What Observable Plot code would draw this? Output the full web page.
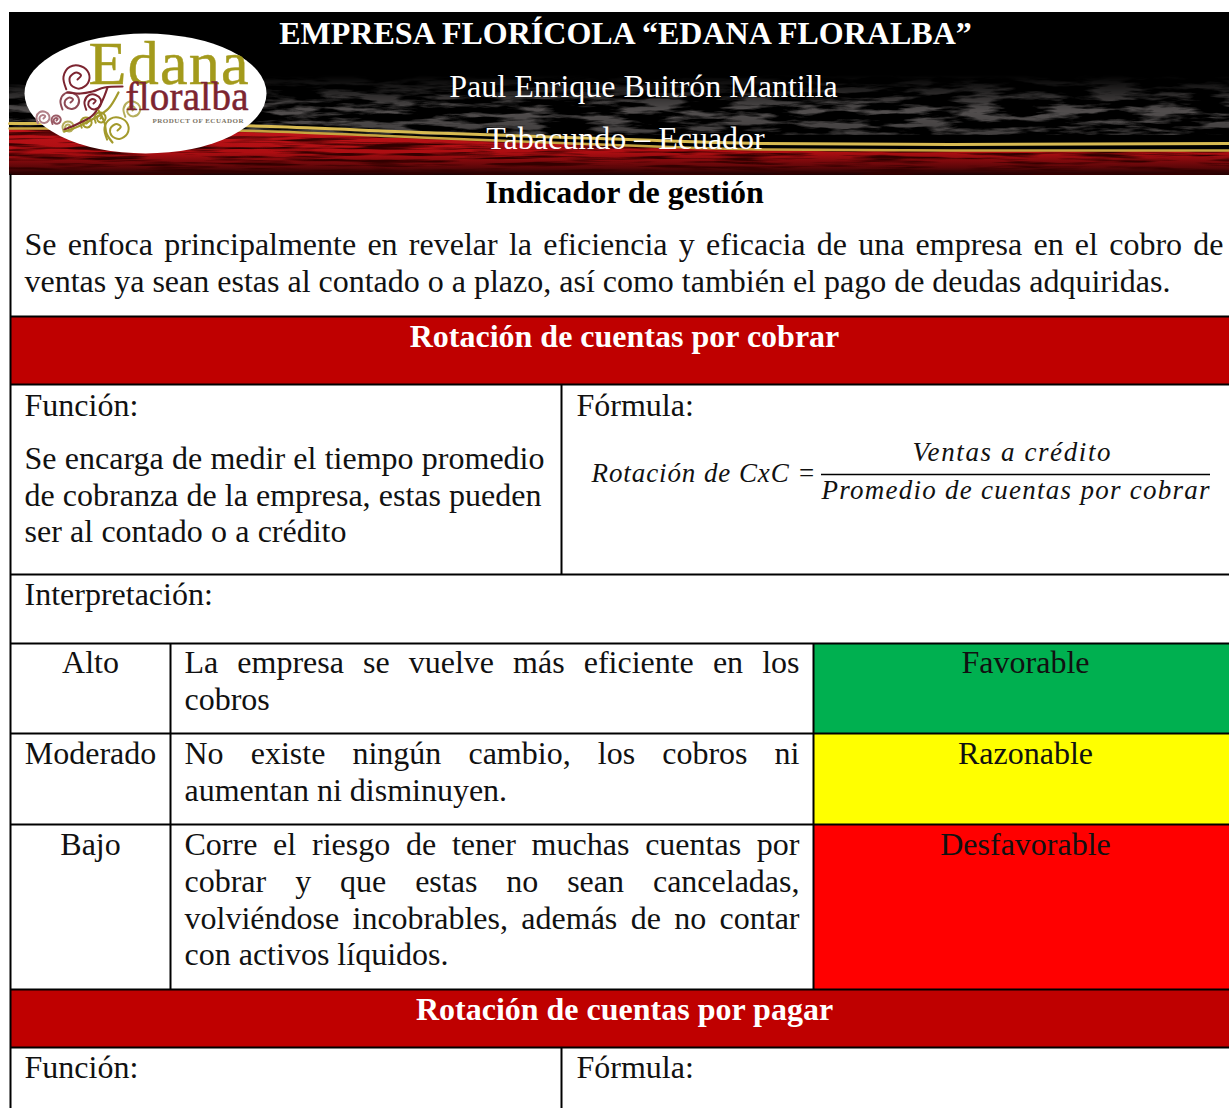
<!DOCTYPE html>
<html lang="es">
<head>
<meta charset="utf-8">
<style>html,body{margin:0;padding:0;background:#fff}svg{display:block}</style>
<script src="https://cdn.jsdelivr.net/npm/d3@7"></script>
<script src="https://cdn.jsdelivr.net/npm/@observablehq/plot@0.6"></script>
</head>
<body>
<div id="page"></div>
<script>
// ---------- content ----------
const headerTitle = ["EMPRESA FLORÍCOLA “EDANA FLORALBA”"];
const headerLines = ["Paul Enrique Buitrón Mantilla", "Tabacundo – Ecuador"];
const sectionTitles = ["Indicador de gestión", "Rotación de cuentas por cobrar", "Rotación de cuentas por pagar"];
const introLines = ["Se enfoca principalmente en revelar la eficiencia y eficacia de una empresa en el cobro de", "ventas ya sean estas al contado o a plazo, así como también el pago de deudas adquiridas."];
const cellLabels = ["Función:", "Fórmula:", "Interpretación:", "Función:", "Fórmula:"];
const functionLines = ["Se encarga de medir el tiempo promedio", "de cobranza de la empresa, estas pueden", "ser al contado o a crédito"];
const levels = ["Alto", "Moderado", "Bajo"];
const verdicts = ["Favorable", "Razonable", "Desfavorable"];
const verdictColors = ["#00b050", "#ffff00", "#ff0000"];
const explanationLines = ["La empresa se vuelve más eficiente en los", "cobros", "No existe ningún cambio, los cobros ni", "aumentan ni disminuyen.", "Corre el riesgo de tener muchas cuentas por", "cobrar y que estas no sean canceladas,", "volviéndose incobrables, además de no contar", "con activos líquidos."];
const formulaParts = ["Rotación de CxC =", "Ventas a crédito", "Promedio de cuentas por cobrar"];
const logoWords = ["Edana", "floralba", "PRODUCT OF ECUADOR"];

// ---------- layout (page pixels) ----------
const W = 1229, H = 1108;
const serif = "'Liberation Serif','Times New Roman',serif";
const BODY = 32;
const hLines = [316, 384, 574, 643, 733, 824, 989, 1047];
const vLines = [[10, 174, H], [561, 384, 574], [561, 1047, H], [170, 643, 989], [813, 643, 989]];
const bands = [[317, 384], [990, 1047]];
const verdictRows = [[644, 733], [734, 824], [825, 989]];
const headerLinePos = [[643, 96], [625, 148]];
const titleBase = [202, 346, 1019];
const labelPos = [[24, 415], [576, 415], [24, 604], [24, 1077], [576, 1077]];
const introPos = [[24, 254, 1199], [24, 291, 1146]];
const functionPos = [[24, 468, 520], [24, 505, 517], [24, 541, 322]];
const levelBase = [672, 763, 854];
const explanationPos = [[184, 672, 615], [184, 709, 0], [184, 763, 615], [184, 800, 0], [184, 854, 615], [184, 891, 615], [184, 928, 615], [184, 964, 0]];
const formulaPos = [[591, 481, 224], [912, 460, 198], [821, 498, 388]];
const logoPos = [[88, 83, 160, 62], [125, 109, 123, 39], [152, 122, 91, 7]];

// header artwork outlines (estimated)
const goldTopX = [9, 120, 270, 420, 600, 760, 950, 1229];
const goldTopY = [123, 123, 126, 132, 138, 143, 144, 143];
const goldLowY = [128, 128, 131, 137, 144, 149, 150, 150];
const swirlShape = [[0,0],[.25,-.3],[-.1,-.5],[-.55,-.15],[-.45,.4],[.15,.65],[.75,.25],[.8,-.45],[.25,-.95],[-.55,-.9],[-1,-.2],[-.8,.7]];
const swirls = [
  [77,79,14,"#7c2430"],[70,102,10,"#8d4a55"],[43,118,7,"#b08088"],[93,103,9,"#7c2430"],
  [117,130,13,"#a39a2c"],[132,110,9,"#b5ae5c"],[68,127,6,"#b5ae5c"],[86,123,6,"#a39a2c"],[56,120,5,"#9a5a65"],[100,118,6,"#a39a2c"]
];
const stems = [
  {c:"#7c2430", p:[[67,92],[80,93],[92,91],[104,87],[122,86]]},
  {c:"#7c2430", p:[[107,87],[101,102],[92,115],[78,123],[64,129]]},
  {c:"#a39a2c", p:[[64,131],[80,125],[95,117],[108,108],[118,92]]},
  {c:"#a39a2c", p:[[98,110],[104,122],[106,133],[112,142]]}
];

// ---------- derived tables ----------
const zip = (texts, pos) => texts.map((text, i) => ({text, x: pos[i][0], y: pos[i][1], w: pos[i][2] || 0}));
const bodyLeft = [
  ...zip(introLines, introPos), ...zip(cellLabels, labelPos),
  ...zip(functionLines, functionPos), ...zip(explanationLines, explanationPos)
];
const titles = sectionTitles.map((text, i) => ({text, x: 624, y: titleBase[i], c: i ? "#fff" : "#000"}));
const centered = [
  ...levels.map((text, i) => ({text, x: 90, y: levelBase[i]})),
  ...verdicts.map((text, i) => ({text, x: 1025, y: levelBase[i]}))
];
const gold = goldTopX.map((x, i) => ({x, y1: goldTopY[i], y2: goldLowY[i]}));
const swirlPts = swirls.flatMap(([cx, cy, r, c], id) => swirlShape.map(([dx, dy]) => ({id, c, x: cx + dx * r, y: cy + dy * r})));
const stemPts = stems.flatMap((s, id) => s.p.map(([x, y]) => ({id, c: s.c, x, y})));
const logoTexts = logoWords.map((text, i) => ({text, x: logoPos[i][0], y: logoPos[i][1], w: logoPos[i][2], s: logoPos[i][3], f: ["#a39a1c", "#7c2430", "#7c7465"][i]}));

const defs = () => {
  const d = d3.create("svg:defs");
  d.html(`
   <linearGradient id="redG" gradientUnits="userSpaceOnUse" x1="0" y1="125" x2="0" y2="175">
     <stop offset="0" stop-color="#c2141a"/><stop offset=".55" stop-color="#ad0e12"/>
     <stop offset=".85" stop-color="#5a0608"/><stop offset="1" stop-color="#1a0203"/>
   </linearGradient>
   <linearGradient id="greyG" gradientUnits="userSpaceOnUse" x1="0" y1="75" x2="0" y2="135">
     <stop offset="0" stop-color="#fff" stop-opacity="0"/><stop offset=".6" stop-color="#fff" stop-opacity=".7"/>
     <stop offset="1" stop-color="#fff" stop-opacity=".55"/>
   </linearGradient>
   <filter id="greyTex" x="0" y="0" width="1" height="1" color-interpolation-filters="sRGB">
     <feTurbulence type="fractalNoise" baseFrequency="0.022 0.14" numOctaves="4" seed="11"/>
     <feColorMatrix values="0 0 0 0 .46  0 0 0 0 .44  0 0 0 0 .44  4.4 0 0 0 -1.9"/>
     <feComposite in2="SourceGraphic" operator="in"/>
   </filter>
   <filter id="redTex" x="0" y="0" width="1" height="1" color-interpolation-filters="sRGB">
     <feTurbulence type="fractalNoise" baseFrequency="0.014 0.3" numOctaves="3" seed="3"/>
     <feColorMatrix values="0 0 0 0 .2  0 0 0 0 0  0 0 0 0 0  3.6 0 0 0 -1.6"/>
     <feComposite in2="SourceGraphic" operator="in"/>
   </filter>`);
  return d.node();
};

const textBase = {fontFamily: serif, lineAnchor: "bottom", x: "x", y: "y", text: "text"};

const chart = Plot.plot({
  width: W, height: H,
  margin: 0,
  x: {domain: [0, W], range: [0, W], axis: null},
  y: {domain: [0, H], range: [0, H], axis: null},
  style: {background: "#fff", overflow: "hidden"},
  marks: [
    defs,
    // header background
    Plot.rect([[9, 1229, 12, 175]], {x1: d => d[0], x2: d => d[1], y1: d => d[2], y2: d => d[3], fill: "#000"}),
    Plot.rect([[9, 1229, 75, 135]], {x1: d => d[0], x2: d => d[1], y1: d => d[2], y2: d => d[3], fill: "url(#greyG)", className: "greyTex"}),
    Plot.areaY(gold, {x: "x", y1: "y2", y2: () => 175, fill: "url(#redG)", curve: "monotone-x"}),
    Plot.areaY(gold, {x: "x", y1: "y2", y2: () => 175, fill: "#fff", curve: "monotone-x", className: "redTex"}),
    Plot.lineY(gold, {x: "x", y: "y1", stroke: "#d8bb52", strokeWidth: 3, curve: "monotone-x"}),
    Plot.lineY(gold, {x: "x", y: "y2", stroke: "#c6a540", strokeWidth: 2.4, curve: "monotone-x"}),
    // logo
    Plot.dot([[145, 93]], {x: d => d[0], y: d => d[1], r: 1, fill: "#fff", className: "logoOval"}),
    Plot.line(swirlPts, {x: "x", y: "y", z: "id", stroke: "c", strokeWidth: 2, curve: "catmull-rom"}),
    Plot.line(stemPts, {x: "x", y: "y", z: "id", stroke: "c", strokeWidth: 2.2, curve: "catmull-rom"}),
    Plot.text(logoTexts.slice(0, 2), {...textBase, fontSize: "s", fill: "f", stroke: "f", strokeWidth: 0.5, textAnchor: "start", className: "logoFit"}),
    Plot.text(logoTexts.slice(2), {...textBase, fontSize: "s", fontWeight: "bold", fill: "f", textAnchor: "start", className: "logoFit"}),
    // coloured cells
    Plot.rect(bands, {x1: () => 11, x2: () => W, y1: d => d[0], y2: d => d[1], fill: "#bf0000"}),
    Plot.rect(verdictRows, {x1: () => 814, x2: () => W, y1: d => d[0], y2: d => d[1], fill: (d, i) => verdictColors[i]}),
    // grid
    Plot.ruleY(hLines, {y: d => d, x1: () => 10, x2: () => W, stroke: "#000", strokeWidth: 2}),
    Plot.ruleX(vLines, {x: d => d[0], y1: d => d[1], y2: d => d[2], stroke: "#000", strokeWidth: 2}),
    // formula rule
    Plot.ruleY([474], {y: d => d, x1: () => 821, x2: () => 1210, stroke: "#000", strokeWidth: 1.6}),
    // text
    Plot.text(headerTitle, {fontFamily: serif, lineAnchor: "bottom", text: d => d, x: () => 625, y: () => 43, fontSize: 32, fontWeight: "bold", fill: "#fff", textAnchor: "middle"}),
    Plot.text(zip(headerLines, headerLinePos), {...textBase, fontSize: 32, fill: "#fff", textAnchor: "middle"}),
    Plot.text(titles, {...textBase, fontSize: BODY, fontWeight: "bold", fill: "c", textAnchor: "middle"}),
    Plot.text(bodyLeft, {...textBase, fontSize: BODY, fill: "#111", textAnchor: "start", className: "justified"}),
    Plot.text(centered, {...textBase, fontSize: BODY, fill: "#111", textAnchor: "middle"}),
    Plot.text(zip(formulaParts, formulaPos), {...textBase, fontSize: 27, fontStyle: "italic", fill: "#111", textAnchor: "start", className: "fitted"})
  ]
});
document.getElementById("page").appendChild(chart);

// filters & oval geometry applied after Plot has drawn
chart.querySelectorAll(".greyTex path, .greyTex rect").forEach(e => e.setAttribute("filter", "url(#greyTex)"));
chart.querySelectorAll(".redTex path").forEach(e => e.setAttribute("filter", "url(#redTex)"));
const oval = chart.querySelector(".logoOval circle");
if (oval) {
  const e = document.createElementNS("http://www.w3.org/2000/svg", "ellipse");
  e.setAttribute("cx", 145); e.setAttribute("cy", 93); e.setAttribute("rx", 121); e.setAttribute("ry", 60); e.setAttribute("fill", "#fff");
  oval.replaceWith(e);
}
// Word-justify body lines, fit formula and logo pieces by letter spacing
chart.querySelectorAll(".justified text").forEach((t, i) => {
  const target = bodyLeft[i].w, s = bodyLeft[i].text;
  const gaps = (s.match(/ /g) || []).length;
  if (target && gaps) t.style.wordSpacing = ((target - t.getComputedTextLength()) / gaps) + "px";
});
const letterFit = (t, s, w) => { t.style.letterSpacing = ((w - t.getComputedTextLength()) / (s.length - 1)) + "px"; };
chart.querySelectorAll(".fitted text").forEach((t, i) => letterFit(t, formulaParts[i], formulaPos[i][2]));
chart.querySelectorAll(".logoFit text").forEach((t, i) => letterFit(t, logoWords[i], logoPos[i][2]));
</script>
</body>
</html>
